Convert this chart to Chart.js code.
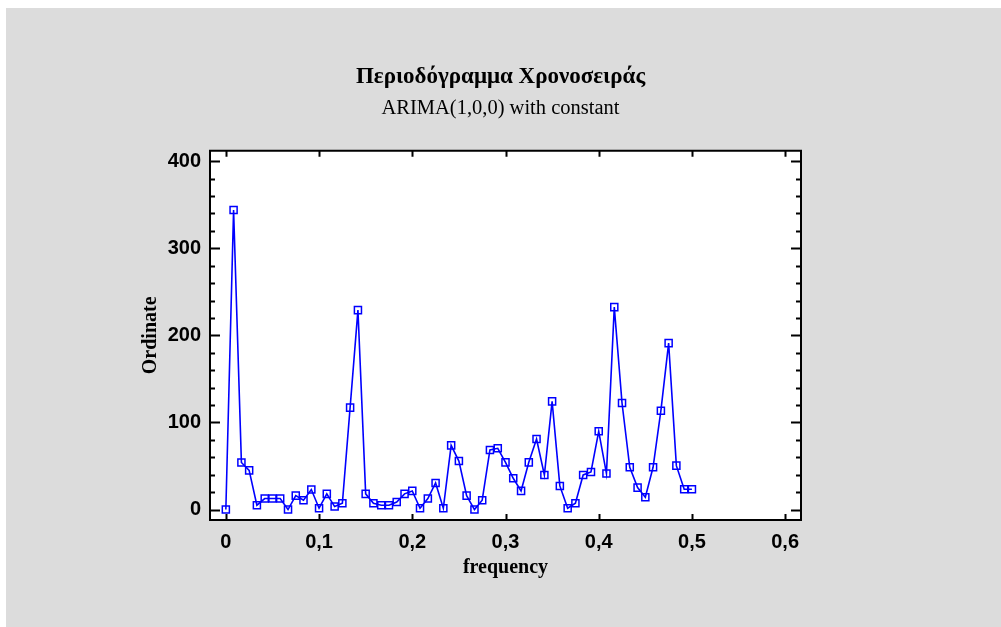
<!DOCTYPE html>
<html>
<head>
<meta charset="utf-8">
<title>Περιοδόγραμμα Χρονοσειράς</title>
<script src="https://cdn.jsdelivr.net/npm/chart.js@4/dist/chart.umd.min.js"></script>
<style>
  html, body { margin: 0; padding: 0; background: #ffffff; }
  canvas { display: block; }
</style>
</head>
<body>
<canvas id="periodogram" width="1001" height="627"></canvas>
<script>
// Periodogram of the residual series, ordinate per Fourier frequency k/120
var frequencies = [
  0, 0.0083, 0.0167, 0.025, 0.0333, 0.0417, 0.05, 0.0583, 0.0667, 0.075,
  0.0833, 0.0917, 0.1, 0.1083, 0.1167, 0.125, 0.1333, 0.1417, 0.15, 0.1583,
  0.1667, 0.175, 0.1833, 0.1917, 0.2, 0.2083, 0.2167, 0.225, 0.2333, 0.2417,
  0.25, 0.2583, 0.2667, 0.275, 0.2833, 0.2917, 0.3, 0.3083, 0.3167, 0.325,
  0.3333, 0.3417, 0.35, 0.3583, 0.3667, 0.375, 0.3833, 0.3917, 0.4, 0.4083,
  0.4167, 0.425, 0.4333, 0.4417, 0.45, 0.4583, 0.4667, 0.475, 0.4833, 0.4917,
  0.5
];
var ordinates = [
  0, 344, 54, 45, 5, 12.6, 12.6, 12.6, 0, 16,
  10.7, 23, 1.5, 18, 3.4, 7.2, 117, 229, 18, 7.2,
  5, 5, 8.7, 18, 21.4, 1.5, 12.6, 30.5, 1.5, 73.7,
  55.7, 16, 0, 10.7, 68.4, 70.3, 54.2, 35.9, 21.4, 54.2,
  81, 39.7, 124.2, 27.1, 1.5, 7.2, 39.7, 43.2, 89.8, 41.3,
  232.4, 122.3, 48.5, 25.2, 14.1, 48.5, 113.5, 191.1, 50.4, 23.3,
  23.3
];
var xTicks = [0, 0.1, 0.2, 0.3, 0.4, 0.5, 0.6];
var yTicks = [0, 100, 200, 300, 400];

var points = frequencies.map(function (f, i) {
  return { x: f, y: ordinates[i] };
});

function formatComma(v) {
  if (v === 0) return '0';
  return v.toFixed(1).replace('.', ',');
}

// gray panel, white plot area, black frame and inward tick marks
var framePlugin = {
  id: 'frame',
  beforeDraw: function (chart) {
    var ctx = chart.ctx;
    ctx.save();
    ctx.fillStyle = '#ffffff';
    ctx.fillRect(0, 0, chart.width, chart.height);
    ctx.fillStyle = '#dcdcdc';
    ctx.fillRect(6, 8, chart.width - 6, chart.height - 8);
    var a = chart.chartArea;
    ctx.fillStyle = '#ffffff';
    ctx.fillRect(a.left, a.top, a.right - a.left, a.bottom - a.top);
    ctx.restore();
  },
  afterDraw: function (chart) {
    var ctx = chart.ctx;
    var a = chart.chartArea;
    var xs = chart.scales.x;
    var ys = chart.scales.y;
    ctx.save();
    ctx.strokeStyle = '#000000';
    ctx.lineWidth = 2;
    ctx.beginPath();
    ctx.rect(a.left, a.top, a.right - a.left, a.bottom - a.top);
    ctx.stroke();

    ctx.beginPath();
    for (var v = 0; v <= 400; v += 20) {
      var py = Math.round(ys.getPixelForValue(v)) + 0.5;
      var len = (v % 100 === 0) ? 10 : 5;
      ctx.moveTo(a.left, py);
      ctx.lineTo(a.left + len, py);
      ctx.moveTo(a.right, py);
      ctx.lineTo(a.right - len, py);
    }
    xTicks.forEach(function (t) {
      var px = Math.round(xs.getPixelForValue(t)) + 0.5;
      ctx.moveTo(px, a.bottom);
      ctx.lineTo(px, a.bottom - 6);
      ctx.moveTo(px, a.top);
      ctx.lineTo(px, a.top + 6);
    });
    ctx.stroke();
    ctx.restore();
  }
};

var ctx = document.getElementById('periodogram');

new Chart(ctx, {
  type: 'scatter',
  data: {
    datasets: [{
      label: 'Ordinate',
      data: points,
      showLine: true,
      tension: 0,
      borderColor: '#0000ff',
      borderWidth: 1.6,
      pointStyle: 'rect',
      pointRadius: 5,
      pointHoverRadius: 5,
      pointBorderColor: '#0000ff',
      pointBorderWidth: 1.5,
      pointBackgroundColor: 'rgba(255,255,255,0)'
    }]
  },
  options: {
    responsive: false,
    animation: false,
    layout: { padding: 0 },
    plugins: {
      legend: { display: false },
      tooltip: { enabled: false },
      title: {
        display: true,
        text: 'Περιοδόγραμμα Χρονοσειράς',
        color: '#000000',
        font: { family: '"Liberation Serif", "DejaVu Serif", serif', size: 23, weight: 'bold' },
        padding: { top: 63.5, bottom: 0 }
      },
      subtitle: {
        display: true,
        text: 'ARIMA(1,0,0) with constant',
        color: '#000000',
        font: { family: '"Liberation Serif", "DejaVu Serif", serif', size: 20.5, weight: 'normal' },
        padding: { top: 5.1, bottom: 29.9 }
      }
    },
    scales: {
      x: {
        type: 'linear',
        min: -0.017,
        max: 0.617,
        afterFit: function (scale) { scale.height = 107; },
        grid: { display: false, drawTicks: false },
        border: { display: false },
        ticks: {
          stepSize: 0.1,
          includeBounds: false,
          padding: 10,
          color: '#000000',
          font: { family: '"Liberation Sans", Arial, sans-serif', size: 20, weight: 'bold' },
          callback: function (v) { return formatComma(v); }
        },
        title: {
          display: true,
          text: 'frequency',
          color: '#000000',
          font: { family: '"Liberation Serif", "DejaVu Serif", serif', size: 20, weight: 'bold' },
          padding: { top: 0, bottom: 47 }
        }
      },
      y: {
        type: 'linear',
        min: -12,
        max: 412,
        afterFit: function (scale) { scale.width = 210; },
        grid: { display: false, drawTicks: false },
        border: { display: false },
        ticks: {
          stepSize: 100,
          includeBounds: false,
          padding: 9,
          color: '#000000',
          font: { family: '"Liberation Sans", Arial, sans-serif', size: 20, weight: 'bold' }
        },
        title: {
          display: true,
          text: 'Ordinate',
          color: '#000000',
          font: { family: '"Liberation Serif", "DejaVu Serif", serif', size: 20, weight: 'bold' },
          padding: { top: 139.3, bottom: 0 }
        }
      },
      // empty right-hand margin so the titles centre on the whole panel
      margin: {
        type: 'linear',
        position: 'right',
        display: true,
        afterFit: function (scale) { scale.width = 200; },
        grid: { display: false, drawTicks: false },
        border: { display: false },
        ticks: { display: false }
      }
    }
  },
  plugins: [framePlugin]
});
</script>
</body>
</html>
